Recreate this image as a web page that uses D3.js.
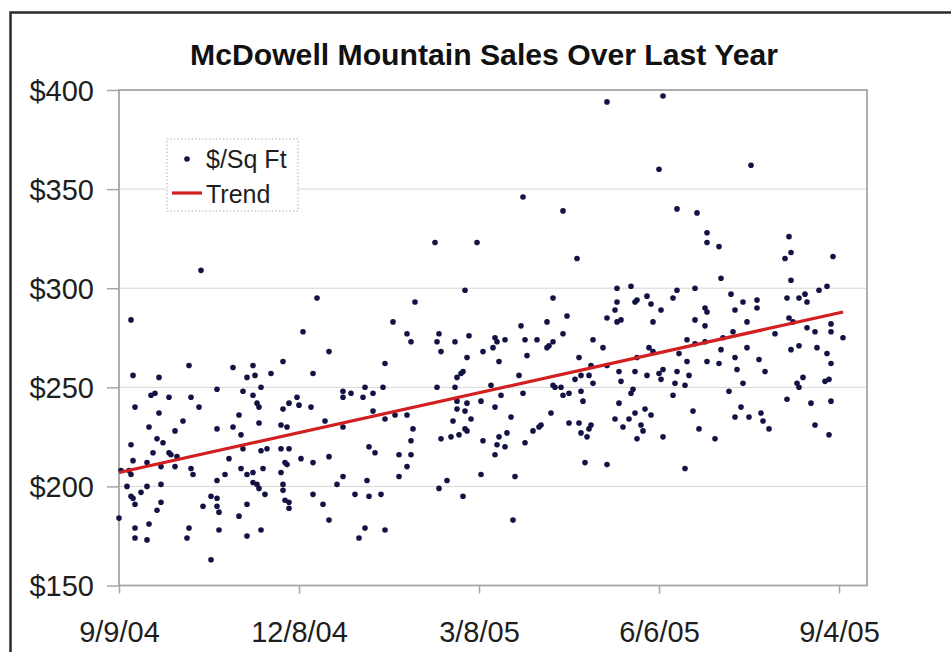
<!DOCTYPE html>
<html><head><meta charset="utf-8">
<script src="https://cdn.jsdelivr.net/npm/d3@7"></script>
<style>html,body{margin:0;padding:0;background:#fff;}svg{display:block;}</style>
</head><body><svg id="chart" width="951" height="652"></svg>
<script>
// ---- data ----
const chartTitle = "McDowell Mountain Sales Over Last Year";
const startDate = "2004-09-09";          // day 0
const axisEndDay = 374;                   // right edge of the date axis
// sale dates, as days since 9/9/04
const saleDay = [41,6,99,92,244,202,222,158,179,229,173,148,137,217,214,224,201,244,272,270,316,279,289,294,294,300,335,336,333,357,301,336,249,256,279,277,288,249,248,258,259,264,266,271,267,249,251,288,293,294,293,306,308,312,314,319,319,307,302,334,340,343,344,350,354,335,337,344,348,356,356,328,284,362,
105,7,20,35,57,67,64,68,76,82,97,8,16,18,25,20,36,40,49,62,71,67,69,70,60,82,85,89,90,96,112,112,116,
15,6,7,5,6,19,22,17,14,25,26,29,28,21,28,32,36,37,49,57,61,55,62,61,64,67,71,74,72,70,81,84,81,85,83,84,81,91,97,103,112,105,112,109,
53,49,4,6,7,11,14,21,8,21,19,15,8,8,14,0,35,34,46,49,42,49,50,50,46,64,60,64,71,73,67,69,70,82,82,83,85,85,97,102,105,118,120,123,1,
144,146,160,159,175,168,188,189,193,203,209,217,214,215,222,237,242,161,182,187,190,204,174,133,230,236,172,171,169,200,228,231,235,237,123,122,127,132,159,168,186,202,217,218,221,222,225,231,232,191,181,188,169,174,169,173,127,138,144,133,176,167,196,216,147,146,161,166,170,173,174,190,194,189,193,188,182,203,207,210,211,225,230,231,234,235,236,125,128,140,146,144,140,164,160,172,181,198,124,125,131,133,197,233,244,244,
288,293,265,267,259,280,301,314,308,320,336,340,349,354,356,284,294,300,309,323,250,258,264,270,272,279,285,271,251,278,283,342,339,340,353,355,312,256,257,277,305,334,250,263,287,311,346,356,258,266,321,248,255,261,252,262,308,315,322,325,290,298,272,259,348,355,283];
// price per square foot, same order
const pricePerSqFt = [309,284,295,278,394,346,339,323,323,315,299,293,283,295,283,286,281,285,397,360,362,340,338,328,323,321,326,318,315,316,305,304,300,301,299,295,300,293,289,293,294,296,292,289,283,283,284,284,290,288,281,297,289,293,283,294,290,278,275,295,295,297,293,299,301,285,283,280,278,282,278,277,274,275,
268,256,255,261,260,261,255,256,257,263,257,240,246,247,245,237,245,240,249,248,250,246,242,240,236,239,242,245,241,240,248,245,247,
230,221,213,208,206,224,222,217,212,217,216,215,210,210,228,233,209,206,229,230,226,214,219,209,206,207,218,219,209,232,231,230,219,219,212,211,207,214,212,233,230,215,205,201,
206,203,200,195,194,197,200,201,191,192,188,181,179,174,173,184,179,174,195,194,190,190,187,178,163,191,185,175,178,196,202,201,199,201,198,193,192,189,196,191,183,196,174,179,208,
277,273,277,273,276,273,275,273,274,274,274,273,270,271,277,274,270,268,268,270,263,266,265,262,265,261,258,257,255,256,254,256,256,252,250,245,247,250,250,250,251,247,251,250,250,246,247,248,243,246,243,240,243,242,239,238,238,236,236,234,234,233,235,237,229,223,224,225,226,229,228,225,227,221,220,216,223,222,228,230,231,232,232,227,225,229,231,220,217,216,216,210,205,203,199,195,206,205,203,195,196,178,183,212,211,261,
272,273,270,268,265,267,269,270,265,264,269,271,270,267,262,263,263,262,259,258,258,258,256,257,259,258,256,254,253,252,251,255,252,250,253,254,252,247,249,246,248,244,242,239,238,240,242,243,237,236,237,234,234,231,230,228,235,235,233,229,229,224,225,224,231,226,209];
// linear trend end points
const trendDay = [0, 362];
const trendValue = [207, 288];
// axis ticks
const yTicks = [150, 200, 250, 300, 350, 400];
const xTickDays = [0, 90, 180, 270, 360];
const legendLabels = ["$/Sq Ft", "Trend"];

// ---- drawing ----
(function () {
const svg = d3.select("#chart");
const start = new Date(startDate + "T00:00:00Z");
const toDate = d => d3.utcDay.offset(start, d);

const pL = 119, pR = 867, pT = 90, pB = 585.5;
const x = d3.scaleUtc().domain([start, toDate(axisEndDay)]).range([pL, pR]);
const y = d3.scaleLinear().domain([150, 400]).range([pB, pT]);

const font = "'Liberation Sans', Arial, sans-serif";
const dotColor = "#121244";
const trendColor = "#d21f1f";

// outer frame (top and left edges visible)
svg.append("path").attr("d", "M10.5,652 V12.5 H951")
  .attr("fill", "none").attr("stroke", "#2b2b2b").attr("stroke-width", 2.5);

// title
svg.append("text").attr("x", 484).attr("y", 65).attr("text-anchor", "middle")
  .attr("font-family", font).attr("font-weight", "bold").attr("font-size", 29)
  .attr("textLength", 588).attr("lengthAdjust", "spacingAndGlyphs")
  .attr("fill", "#111").text(chartTitle);

// gridlines
svg.append("g").selectAll("line").data(yTicks.filter(v => v > 150 && v < 400)).join("line")
  .attr("x1", pL).attr("x2", pR).attr("y1", d => y(d)).attr("y2", d => y(d))
  .attr("stroke", "#d6d6d6").attr("stroke-width", 1);

// plot border
svg.append("rect").attr("x", pL).attr("y", pT).attr("width", pR - pL).attr("height", pB - pT)
  .attr("fill", "none").attr("stroke", "#a6a6a6").attr("stroke-width", 1.8);

// y axis
const yAxis = svg.append("g").attr("transform", `translate(${pL},0)`)
  .call(d3.axisLeft(y).tickValues(yTicks).tickSize(12).tickPadding(13).tickFormat(d => "$" + d));
yAxis.select(".domain").remove();
yAxis.selectAll(".tick line").attr("stroke", "#a6a6a6").attr("stroke-width", 1.5);
yAxis.selectAll(".tick text").attr("font-family", font).attr("font-size", 29).attr("fill", "#1e1e1e")
  .attr("dy", "0.36em");

// x axis
const fmt = d => `${d.getUTCMonth() + 1}/${d.getUTCDate()}/${String(d.getUTCFullYear()).slice(2)}`;
const xAxis = svg.append("g").attr("transform", `translate(0,${pB})`)
  .call(d3.axisBottom(x).tickValues(xTickDays.map(toDate)).tickSize(8).tickPadding(28).tickFormat(fmt));
xAxis.select(".domain").remove();
xAxis.selectAll(".tick line").attr("stroke", "#a6a6a6").attr("stroke-width", 1.5);
xAxis.selectAll(".tick text").attr("font-family", font).attr("font-size", 29).attr("fill", "#1e1e1e");

// points
svg.append("g").selectAll("circle").data(saleDay.map((d, i) => ({ d, v: pricePerSqFt[i] }))).join("circle")
  .attr("cx", p => x(toDate(p.d))).attr("cy", p => y(p.v)).attr("r", 2.8).attr("fill", dotColor);

// trend line
svg.append("path")
  .datum(trendDay.map((d, i) => [toDate(d), trendValue[i]]))
  .attr("d", d3.line().x(p => x(p[0])).y(p => y(p[1])))
  .attr("fill", "none").attr("stroke", trendColor).attr("stroke-width", 3.2);

// legend
const lg = svg.append("g");
lg.append("rect").attr("x", 167).attr("y", 139).attr("width", 131).attr("height", 72)
  .attr("fill", "#fff").attr("stroke", "#b0b0b0").attr("stroke-width", 1).attr("stroke-dasharray", "1.5,2");
lg.append("circle").attr("cx", 187).attr("cy", 159).attr("r", 2.8).attr("fill", dotColor);
lg.append("line").attr("x1", 172).attr("x2", 202).attr("y1", 193).attr("y2", 193)
  .attr("stroke", trendColor).attr("stroke-width", 3.2);
lg.selectAll("text").data(legendLabels).join("text")
  .attr("x", 206).attr("y", (d, i) => 168 + i * 35)
  .attr("font-family", font).attr("font-size", 25).attr("fill", "#1e1e1e").text(d => d);
})();
</script></body></html>
